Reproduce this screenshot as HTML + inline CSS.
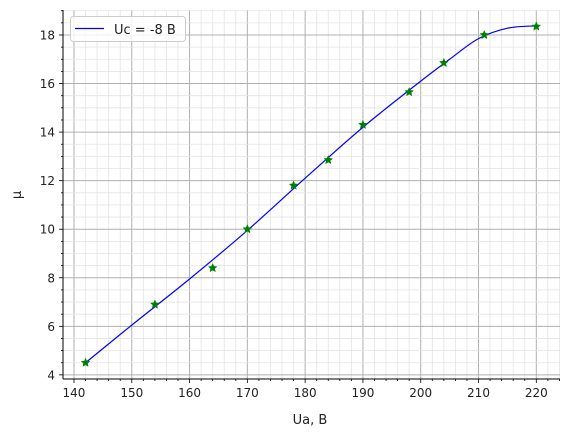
<!DOCTYPE html>
<html><head><meta charset="utf-8"><style>
body{margin:0;background:#fff}
svg{font-family:"DejaVu Sans","Liberation Sans",sans-serif}
</style></head><body>
<svg width="568" height="438">
<g id="grid"></g>
<g id="axes"></g>
<path id="curve" fill="none" stroke="#0000ff" stroke-width="1.2"/>
<g id="pts"></g>
<g>
<rect x="70.5" y="16.5" width="115" height="25" rx="3" fill="#fff" fill-opacity="0.8" stroke="#ccc"/>
<line x1="75" y1="28.5" x2="104" y2="28.5" stroke="#0000ff" stroke-width="1.2"/>
<text x="114" y="34" font-size="13" fill="#222">Uc = -8 B</text>
</g>
<text x="310" y="424" font-size="13" text-anchor="middle" fill="#222">Ua, B</text>
<text transform="translate(21,195) rotate(-90)" font-size="13" text-anchor="middle" fill="#222">μ</text>
</svg>
<script>
const ptX=[142,154,164,170,178,184,190,198,204,211,220];
const ptY=[4.5,6.9,8.4,10,11.8,12.85,14.3,15.65,16.85,18,18.35];
const curveX=[142,150,160,170,180,190,200,205,210,215,220];
const curveY=[4.5,6.05,7.95,9.95,12.1,14.2,16.1,17.0,17.85,18.28,18.38];
const xTicks=[140,150,160,170,180,190,200,210,220];
const yTicks=[4,6,8,10,12,14,16,18];
const X0=63,X1=560,Y0=379,Y1=10,xmin=138.1,xmax=224.1,ymin=3.83,ymax=19.03;
const sx=v=>X0+(v-xmin)/(xmax-xmin)*(X1-X0);
const sy=v=>Y0-(v-ymin)/(ymax-ymin)*(Y0-Y1);
const NS="http://www.w3.org/2000/svg";
function mk(t,a,p){const e=document.createElementNS(NS,t);for(const k in a)e.setAttribute(k,a[k]);p.appendChild(e);return e;}
const g=document.getElementById('grid'),ax=document.getElementById('axes');
for(let v=140;v<=224;v+=2){const x=sx(v);const major=v%10==0;
 const l=mk('line',{x1:x,x2:x,y1:Y1,y2:Y0,stroke:major?'#b0b0b0':'#e4e4e4','stroke-width':major?1:0.8},g);
 
 mk('line',{x1:x,x2:x,y1:Y0,y2:Y0+(major?4:2),stroke:'#000','stroke-width':0.8},ax);}
for(let v=4;v<=19;v+=0.5){const y=sy(v);const major=Math.abs(v%2)<1e-9;
 const l=mk('line',{x1:X0,x2:X1,y1:y,y2:y,stroke:major?'#b0b0b0':'#e4e4e4','stroke-width':major?1:0.8},g);
 
 mk('line',{x1:X0,x2:X0-(major?4:2),y1:y,y2:y,stroke:'#000','stroke-width':0.8},ax);}
mk('line',{x1:X0,x2:X1,y1:Y0,y2:Y0,stroke:'#000','stroke-width':1},ax);
mk('line',{x1:X0,x2:X0,y1:Y1,y2:Y0,stroke:'#000','stroke-width':1},ax);
xTicks.forEach(v=>{const t=mk('text',{x:sx(v),y:Y0+18,'font-size':12,'text-anchor':'middle',fill:'#222'},ax);t.textContent=v;
 });
yTicks.forEach(v=>{const t=mk('text',{x:X0-8,y:sy(v)+4.5,'font-size':12,'text-anchor':'end',fill:'#222'},ax);t.textContent=v;
 });
const P=curveX.map((v,i)=>[sx(v),sy(curveY[i])]);
let d='M'+P[0][0]+','+P[0][1];
for(let i=0;i<P.length-1;i++){const p0=P[Math.max(i-1,0)],p1=P[i],p2=P[i+1],p3=P[Math.min(i+2,P.length-1)];
 d+=` C${p1[0]+(p2[0]-p0[0])/6},${p1[1]+(p2[1]-p0[1])/6} ${p2[0]-(p3[0]-p1[0])/6},${p2[1]-(p3[1]-p1[1])/6} ${p2[0]},${p2[1]}`;}
document.getElementById('curve').setAttribute('d',d);
const pg=document.getElementById('pts');
function star(cx,cy,r){let s='';for(let k=0;k<10;k++){const a=-Math.PI/2+k*Math.PI/5,rr=k%2?r*0.45:r;s+=(cx+rr*Math.cos(a))+','+(cy+rr*Math.sin(a))+' ';}return s;}
ptX.forEach((v,i)=>{const s=mk('polygon',{points:star(sx(v),sy(ptY[i]),4.5),fill:'#008000',stroke:'#008000','stroke-width':0.5},pg);
 });
</script>
</body></html>
